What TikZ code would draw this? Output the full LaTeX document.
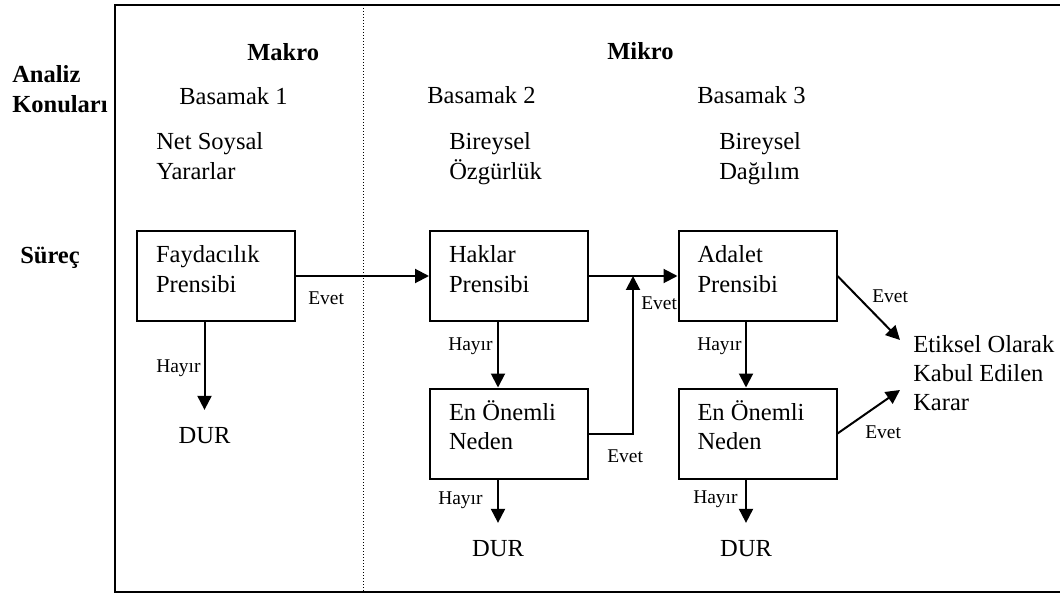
\documentclass[tikz,border=0pt]{standalone}
\usepackage{fontspec}
\setmainfont{Liberation Serif}
\usetikzlibrary{arrows.meta,calc}
\newcommand\twoln[2]{\vtop{\hbox{#1}\hbox{#2}}}
\newcommand\boxtxt[2]{\hbox to 90pt{\vtop{\hbox{#1}\hbox{#2}}\hss}}
\begin{document}
\begin{tikzpicture}[x=0.75pt,y=-0.75pt,
  every node/.style={inner sep=0pt},
  big/.style={font=\fontsize{18.4pt}{22pt}\selectfont},
  bigb/.style={font=\fontsize{18.4pt}{22pt}\selectfont\bfseries},
  lab/.style={font=\fontsize{14.6pt}{17pt}\selectfont, anchor=base west},
  txt/.style={big, anchor=base west},
  txtb/.style={bigb, anchor=base west},
  proc/.style={draw, line width=1.5pt, big, inner xsep=14.25pt, inner ysep=0pt, text height=24pt, text depth=43.5pt},
  stop/.style={big, anchor=base, inner ysep=12.6pt},
  conn/.style={line width=1.5pt, -{Triangle[length=10.5pt,width=10.5pt]}}]
\useasboundingbox (0,0) rectangle (1060,595);
% frame and divider
\draw[line width=1.6pt] (1075,5) -- (115,5) -- (115,592) -- (1075,592);
\draw[line width=0.75pt, dash pattern=on 0.75pt off 1.5pt] (363,5) -- (363,592);
% headings
\node[txtb] (analiz) at (12,83) {\twoln{Analiz}{Konuları}};
\node[txtb] (makro) at (247,61) {Makro};
\node[txtb] (mikro) at (607,60) {Mikro};
\node[txtb] (surec) at (20,264) {Süreç};
\node[txt] (b1) at (179,105) {Basamak 1};
\node[txt] (b2) at (427,104) {Basamak 2};
\node[txt] (b3) at (697,104) {Basamak 3};
\node[txt] (nsy) at (156,150) {\twoln{Net Soysal}{Yararlar}};
\node[txt] (boz) at (449,150) {\twoln{Bireysel}{Özgürlük}};
\node[txt] (bda) at (719,150) {\twoln{Bireysel}{Dağılım}};
% process boxes
\node[proc] (fay) at (216,276) {\boxtxt{Faydacılık}{Prensibi}};
\node[proc] (hak) at (509,276) {\boxtxt{Haklar}{Prensibi}};
\node[proc] (ada) at (757.5,276) {\boxtxt{Adalet}{Prensibi}};
\node[proc] (en1) at (509,433.5) {\boxtxt{En Önemli}{Neden}};
\node[proc] (en2) at (757.5,433.5) {\boxtxt{En Önemli}{Neden}};
% end nodes
\node[stop] (dur1) at (204.5,443) {DUR};
\node[stop] (dur2) at (498,556) {DUR};
\node[stop] (dur3) at (746,556) {DUR};
\node[txt] (etik) at (913,352) {\vtop{\hbox{Etiksel Olarak}\hbox{Kabul Edilen}\hbox{Karar}}};
% connector labels
\node[lab] (e1) at (308,305) {Evet};
\node[lab] (e2) at (641,310) {Evet};
\node[lab] (e3) at (607,462) {Evet};
\node[lab] (e4) at (872,303) {Evet};
\node[lab] (e5) at (865,438) {Evet};
\node[lab] (h1) at (156,372) {Hayır};
\node[lab] (h2) at (448,350) {Hayır};
\node[lab] (h3) at (697,350) {Hayır};
\node[lab] (h4) at (438,504) {Hayır};
\node[lab] (h5) at (693,503) {Hayır};
% connectors
\coordinate (j) at (633,276);
\draw[conn] (fay.east) -- (hak.west);
\draw[conn] (hak.east) -- (ada.west);
\draw[conn] (fay.south -| dur1.north) -- (dur1.north);
\draw[conn] ($(hak.south)+(-11,0)$) -- ($(en1.north)+(-11,0)$);
\draw[conn] (en1.south -| dur2.north) -- (dur2.north);
\draw[conn] ($(ada.south)+(-11.5,0)$) -- ($(en2.north)+(-11.5,0)$);
\draw[conn] (en2.south -| dur3.north) -- (dur3.north);
\draw[conn] (en1.east) -| (j);
\draw[conn] (ada.east) -- ($(etik.base west)+(-13,-12)$);
\draw[conn] (en2.east) -- ($(etik.base west)+(-13,38)$);
\end{tikzpicture}
\end{document}
